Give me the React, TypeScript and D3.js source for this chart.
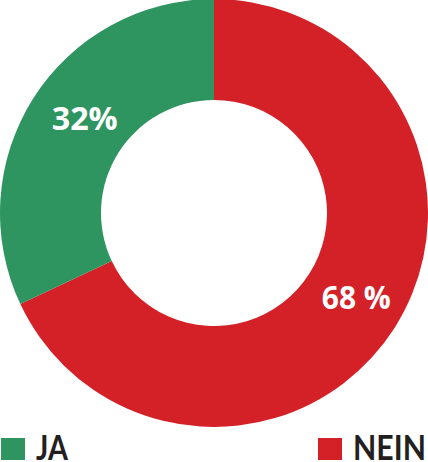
import React, { useRef, useEffect } from "react";
import * as d3 from "d3";

const categories = ["NEIN", "JA"];
const values = [68, 32];
const labels = ["68 %", "32%"];
const colors = ["#d42027", "#2e9460"];
const legendOrder = ["JA", "NEIN"];

const width = 428;
const height = 462;

export default function App() {
  const svgRef = useRef<SVGSVGElement>(null);

  useEffect(() => {
    if (!svgRef.current) return;
    const svg = d3.select(svgRef.current);
    svg.selectAll("*").remove();

    const cx = 214;
    const cy = 213;
    const outer = 214;
    const inner = 113;

    const color = d3.scaleOrdinal<string, string>().domain(categories).range(colors);

    const pie = d3.pie<number>().sort(null).value(d => d);
    const arcs = pie(values);
    const arc = d3.arc<d3.PieArcDatum<number>>().innerRadius(inner).outerRadius(outer);
    const labelArc = d3.arc<d3.PieArcDatum<number>>().innerRadius(165).outerRadius(165);

    const g = svg.append("g").attr("transform", `translate(${cx},${cy})`);

    g.selectAll(".slice")
      .data(arcs)
      .enter()
      .append("path")
      .attr("class", "slice")
      .attr("d", arc)
      .attr("fill", (_, i) => color(categories[i]));

    // small nudges so labels sit where the original has them
    const nudge = [[3, -5], [10, -7]];
    const labelWidth = [69, 66];
    g.selectAll(".lbl")
      .data(arcs)
      .enter()
      .append("text")
      .attr("class", "lbl")
      .attr("x", (d, i) => labelArc.centroid(d)[0] + nudge[i][0])
      .attr("y", (d, i) => labelArc.centroid(d)[1] + nudge[i][1])
      .attr("text-anchor", "middle")
      .attr("dominant-baseline", "central")
      .attr("fill", "#fff")
      .attr("font-family", "'Open Sans', sans-serif")
      .attr("font-weight", 700)
      .attr("font-size", 33)
      .attr("textLength", (_, i) => labelWidth[i])
      .attr("lengthAdjust", "spacingAndGlyphs")
      .text((_, i) => labels[i]);

    // legend
    const legend = svg.append("g");
    const lx = d3.scaleOrdinal<string, number>().domain(legendOrder).range([1, 318]);
    const legendWidth = d3.scaleOrdinal<string, number>().domain(legendOrder).range([32, 73]);
    legendOrder.forEach(name => {
      const item = legend.append("g").attr("transform", `translate(${lx(name)},438)`);
      item.append("rect").attr("width", 24).attr("height", 22).attr("fill", color(name));
      item.append("text")
        .attr("x", 35)
        .attr("y", 22)
        .attr("fill", "#231f20")
        .attr("font-family", "Lato, sans-serif")
        .attr("font-weight", 700)
        .attr("font-size", 34)
        .attr("textLength", legendWidth(name))
        .attr("lengthAdjust", "spacingAndGlyphs")
        .text(name);
    });
  }, []);

  return (
    <svg
      ref={svgRef}
      width={width}
      height={height}
      style={{ position: "absolute", left: 0, top: 0, background: "#fff" }}
    />
  );
}
